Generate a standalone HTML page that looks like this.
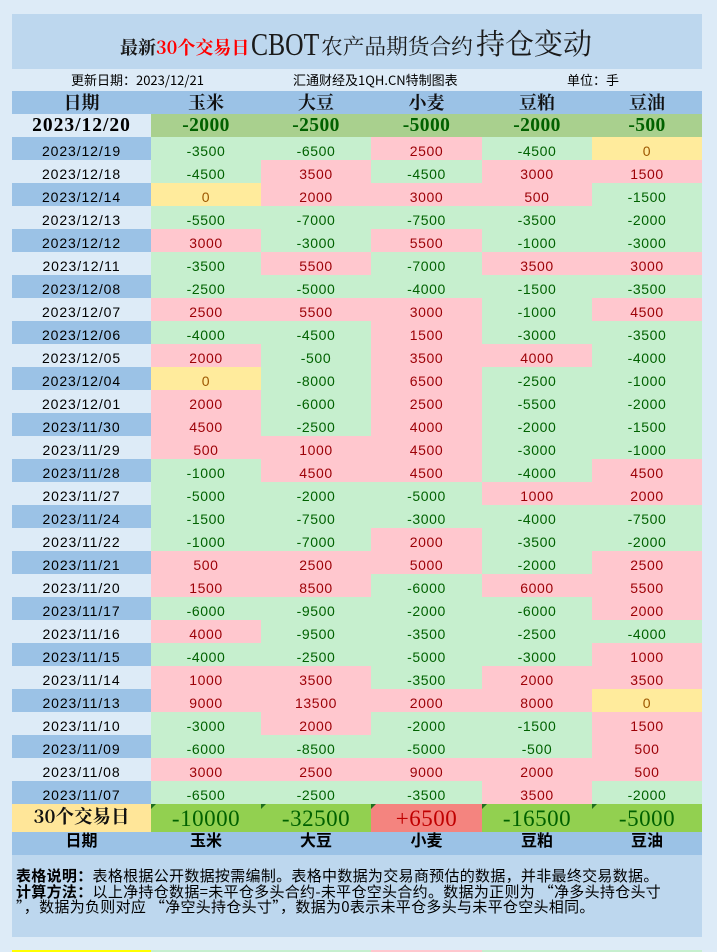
<!DOCTYPE html>
<html><head><meta charset="utf-8"><style>
*{margin:0;padding:0;box-sizing:border-box}
html,body{width:717px;height:952px;overflow:hidden;background:#ddebf7}
body{position:relative;font-family:"Liberation Sans","Noto Sans CJK SC",sans-serif;color:#000}
.tb{position:absolute;left:12px;top:14px;width:690px;height:55px;background:#bdd7ee}
.t{position:absolute;white-space:nowrap;line-height:1;color:#1a1a1a}
.sub{position:absolute;top:73px;white-space:nowrap;line-height:1;font-size:13px;font-family:"Noto Sans CJK SC",sans-serif}
.tbl{position:absolute;left:12px;top:91px;width:690px}
.r{display:flex;height:23px}
.r>i{display:block;font-style:normal;height:23px;text-align:center;white-space:nowrap}
.r>i:nth-child(1){width:139px}
.r>i:nth-child(2),.r>i:nth-child(3),.r>i:nth-child(5),.r>i:nth-child(6){width:110px}
.r>i:nth-child(4){width:111px}
.hd{background:#9bc2e6}
.hd>i{font-family:"Noto Serif CJK SC",serif;font-weight:bold;font-size:18px;line-height:23px;color:#111}
.top>i{background:#a9d08e;color:#006100;font-family:"Liberation Serif",serif;font-weight:bold;font-size:19.5px;line-height:22px;padding-top:1px;letter-spacing:0.4px}
.top>i:first-child{background:#ddebf7;color:#000;letter-spacing:1px}
.d>i{padding-top:5px;line-height:18px;font-size:14px;letter-spacing:0.6px}
.d>i:first-child{letter-spacing:0.9px}
.b>i:first-child{background:#9bc2e6}
.l>i:first-child{background:#ddebf7}
.g{background:#c6efce;color:#006100}
.p{background:#ffc7ce;color:#9c0006}
.y{background:#ffeb9c;color:#9c5700}
.sm{display:flex;height:28px}
.sm>i{display:block;font-style:normal;height:28px;text-align:center;position:relative;background:#92d050;color:#006100;font-family:"Liberation Serif",serif;font-size:23px;line-height:26px;padding-top:2px;letter-spacing:0.5px}
.sm>i:nth-child(1){width:139px;background:#ffe699;color:#111;font-family:"Noto Serif CJK SC",serif;font-weight:bold;font-size:18.5px;line-height:25px;padding-top:0;letter-spacing:0}
.sm>i:nth-child(2),.sm>i:nth-child(3),.sm>i:nth-child(5),.sm>i:nth-child(6){width:110px}
.sm>i:nth-child(4){width:111px;background:#f4847f;color:#c00000}
.sm>i.c::before{content:"";position:absolute;left:0;top:0;border-top:5px solid #1f6f1f;border-right:5px solid transparent}
.ft{background:#9bc2e6}
.ft>i{font-family:"Noto Sans CJK SC",sans-serif;font-weight:bold;font-size:16px;line-height:14px;color:#000}
.notes{position:absolute;left:12px;top:855px;width:690px;height:82px;background:#bdd7ee;padding:13px 0 0 4px;font-family:"Noto Sans CJK SC",sans-serif;font-size:15px;line-height:15.5px;white-space:nowrap;letter-spacing:0.3px;color:#000}
.notes b{font-weight:bold}
.strip{position:absolute;left:12px;top:950px;width:690px;height:2px;display:flex}
.strip>i{display:block;height:2px}
</style></head><body>
<div class="tb"></div>
<span class="t" style="left:120px;top:38px;font-family:'Noto Serif CJK SC',serif;font-weight:bold;font-size:18px">最新</span>
<span class="t" style="left:156px;top:38px;font-family:'Noto Serif CJK SC',serif;font-weight:bold;font-size:18px;color:#ff0000">30个交易日</span>
<span class="t" style="left:251px;top:28px;font-family:'Liberation Serif',serif;font-size:32px;transform:scaleX(0.8);transform-origin:0 0">CBOT</span>
<span class="t" style="left:321px;top:35px;font-family:'Noto Serif CJK SC',serif;font-size:21.7px">农产品期货合约</span>
<span class="t" style="left:476px;top:28px;font-family:'Noto Serif CJK SC',serif;font-size:29px">持仓变动</span>

<span class="sub" style="left:71px">更新日期：2023/12/21</span>
<span class="sub" style="left:293px">汇通财经及1QH.CN特制图表</span>
<span class="sub" style="left:567px">单位：手</span>

<div class="tbl">
<div class="r hd"><i>日期</i><i>玉米</i><i>大豆</i><i>小麦</i><i>豆粕</i><i>豆油</i></div>
<div class="r top"><i>2023/12/20</i><i>-2000</i><i>-2500</i><i>-5000</i><i>-2000</i><i>-500</i></div>
<div class="r d b"><i>2023/12/19</i><i class="g">-3500</i><i class="g">-6500</i><i class="p">2500</i><i class="g">-4500</i><i class="y">0</i></div>
<div class="r d l"><i>2023/12/18</i><i class="g">-4500</i><i class="p">3500</i><i class="g">-4500</i><i class="p">3000</i><i class="p">1500</i></div>
<div class="r d b"><i>2023/12/14</i><i class="y">0</i><i class="p">2000</i><i class="p">3000</i><i class="p">500</i><i class="g">-1500</i></div>
<div class="r d l"><i>2023/12/13</i><i class="g">-5500</i><i class="g">-7000</i><i class="g">-7500</i><i class="g">-3500</i><i class="g">-2000</i></div>
<div class="r d b"><i>2023/12/12</i><i class="p">3000</i><i class="g">-3000</i><i class="p">5500</i><i class="g">-1000</i><i class="g">-3000</i></div>
<div class="r d l"><i>2023/12/11</i><i class="g">-3500</i><i class="p">5500</i><i class="g">-7000</i><i class="p">3500</i><i class="p">3000</i></div>
<div class="r d b"><i>2023/12/08</i><i class="g">-2500</i><i class="g">-5000</i><i class="g">-4000</i><i class="g">-1500</i><i class="g">-3500</i></div>
<div class="r d l"><i>2023/12/07</i><i class="p">2500</i><i class="p">5500</i><i class="p">3000</i><i class="g">-1000</i><i class="p">4500</i></div>
<div class="r d b"><i>2023/12/06</i><i class="g">-4000</i><i class="g">-4500</i><i class="p">1500</i><i class="g">-3000</i><i class="g">-3500</i></div>
<div class="r d l"><i>2023/12/05</i><i class="p">2000</i><i class="g">-500</i><i class="p">3500</i><i class="p">4000</i><i class="g">-4000</i></div>
<div class="r d b"><i>2023/12/04</i><i class="y">0</i><i class="g">-8000</i><i class="p">6500</i><i class="g">-2500</i><i class="g">-1000</i></div>
<div class="r d l"><i>2023/12/01</i><i class="p">2000</i><i class="g">-6000</i><i class="p">2500</i><i class="g">-5500</i><i class="g">-2000</i></div>
<div class="r d b"><i>2023/11/30</i><i class="p">4500</i><i class="g">-2500</i><i class="p">4000</i><i class="g">-2000</i><i class="g">-1500</i></div>
<div class="r d l"><i>2023/11/29</i><i class="p">500</i><i class="p">1000</i><i class="p">4500</i><i class="g">-3000</i><i class="g">-1000</i></div>
<div class="r d b"><i>2023/11/28</i><i class="g">-1000</i><i class="p">4500</i><i class="p">4500</i><i class="g">-4000</i><i class="p">4500</i></div>
<div class="r d l"><i>2023/11/27</i><i class="g">-5000</i><i class="g">-2000</i><i class="g">-5000</i><i class="p">1000</i><i class="p">2000</i></div>
<div class="r d b"><i>2023/11/24</i><i class="g">-1500</i><i class="g">-7500</i><i class="g">-3000</i><i class="g">-4000</i><i class="g">-7500</i></div>
<div class="r d l"><i>2023/11/22</i><i class="g">-1000</i><i class="g">-7000</i><i class="p">2000</i><i class="g">-3500</i><i class="g">-2000</i></div>
<div class="r d b"><i>2023/11/21</i><i class="p">500</i><i class="p">2500</i><i class="p">5000</i><i class="g">-2000</i><i class="p">2500</i></div>
<div class="r d l"><i>2023/11/20</i><i class="p">1500</i><i class="p">8500</i><i class="g">-6000</i><i class="p">6000</i><i class="p">5500</i></div>
<div class="r d b"><i>2023/11/17</i><i class="g">-6000</i><i class="g">-9500</i><i class="g">-2000</i><i class="g">-6000</i><i class="p">2000</i></div>
<div class="r d l"><i>2023/11/16</i><i class="p">4000</i><i class="g">-9500</i><i class="g">-3500</i><i class="g">-2500</i><i class="g">-4000</i></div>
<div class="r d b"><i>2023/11/15</i><i class="g">-4000</i><i class="g">-2500</i><i class="g">-5000</i><i class="g">-3000</i><i class="p">1000</i></div>
<div class="r d l"><i>2023/11/14</i><i class="p">1000</i><i class="p">3500</i><i class="g">-3500</i><i class="p">2000</i><i class="p">3500</i></div>
<div class="r d b"><i>2023/11/13</i><i class="p">9000</i><i class="p">13500</i><i class="p">2000</i><i class="p">8000</i><i class="y">0</i></div>
<div class="r d l"><i>2023/11/10</i><i class="g">-3000</i><i class="p">2000</i><i class="g">-2000</i><i class="g">-1500</i><i class="p">1500</i></div>
<div class="r d b"><i>2023/11/09</i><i class="g">-6000</i><i class="g">-8500</i><i class="g">-5000</i><i class="g">-500</i><i class="p">500</i></div>
<div class="r d l"><i>2023/11/08</i><i class="p">3000</i><i class="p">2500</i><i class="p">9000</i><i class="p">2000</i><i class="p">500</i></div>
<div class="r d b"><i>2023/11/07</i><i class="g">-6500</i><i class="g">-2500</i><i class="g">-3500</i><i class="p">3500</i><i class="g">-2000</i></div>
<div class="sm"><i>30个交易日</i><i class="c">-10000</i><i class="c">-32500</i><i class="c">+6500</i><i class="c">-16500</i><i class="c">-5000</i></div>
<div class="r ft"><i>日期</i><i>玉米</i><i>大豆</i><i>小麦</i><i>豆粕</i><i>豆油</i></div>
</div>

<div class="notes"><b>表格说明：</b>表格根据公开数据按需编制。表格中数据为交易商预估的数据，并非最终交易数据。<br><b>计算方法：</b>以上净持仓数据=未平仓多头合约-未平仓空头合约。数据为正则为 “净多头持仓头寸<br>”，数据为负则对应 “净空头持仓头寸”，数据为0表示未平仓多头与未平仓空头相同。</div>

<div class="strip"><i style="width:139px;background:#ffff00"></i><i style="width:220px;background:#c6efce"></i><i style="width:111px;background:#ffc7ce"></i><i style="width:220px;background:#c6efce"></i></div>
</body></html>
